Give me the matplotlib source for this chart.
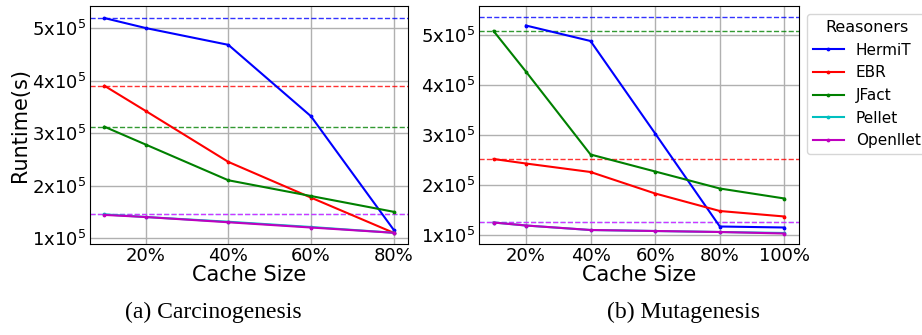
import matplotlib
matplotlib.use("Agg")
import matplotlib.pyplot as plt
import numpy as np

# ---- data ----
reasoners = ["HermiT", "EBR", "JFact", "Pellet", "Openllet"]
colors = ["blue", "red", "green", "c", "m"]
base_colors = ["blue", "red", "green", "cyan", "magenta"]

x_carc = [10, 20, 40, 60, 80]
carc_hermit = [5.19e5, 5.00e5, 4.68e5, 3.32e5, 1.16e5]
carc_ebr = [3.90e5, 3.42e5, 2.45e5, 1.77e5, 1.10e5]
carc_jfact = [3.12e5, 2.78e5, 2.10e5, 1.80e5, 1.50e5]
carc_pellet = [1.45e5, 1.40e5, 1.31e5, 1.21e5, 1.10e5]
carc_openllet = [1.44e5, 1.40e5, 1.30e5, 1.20e5, 1.10e5]
carc_baseline = [5.20e5, 3.90e5, 3.12e5, 1.45e5, 1.45e5]

x_muta = [10, 20, 40, 60, 80, 100]
x_muta_hermit = [20, 40, 60, 80, 100]
muta_hermit = [5.19e5, 4.88e5, 3.03e5, 1.17e5, 1.15e5]
muta_ebr = [2.52e5, 2.43e5, 2.26e5, 1.83e5, 1.48e5, 1.37e5]
muta_jfact = [5.08e5, 4.27e5, 2.61e5, 2.27e5, 1.93e5, 1.73e5]
muta_pellet = [1.25e5, 1.19e5, 1.10e5, 1.08e5, 1.06e5, 1.04e5]
muta_openllet = [1.25e5, 1.19e5, 1.10e5, 1.08e5, 1.06e5, 1.03e5]
muta_baseline = [5.36e5, 2.53e5, 5.09e5, 1.27e5, 1.27e5]

xticks_carc = [20, 40, 60, 80]
xticks_muta = [20, 40, 60, 80, 100]
yticks = [1e5, 2e5, 3e5, 4e5, 5e5]
ytick_labels = ["1x10$^5$", "2x10$^5$", "3x10$^5$", "4x10$^5$", "5x10$^5$"]
captions = ["(a) Carcinogenesis", "(b) Mutagenesis"]

fig = plt.figure(figsize=(9.22, 3.35), dpi=100)
W, H = 922, 335
ax1 = fig.add_axes([90 / W, 1 - 244 / H, 318 / W, 238 / H])
ax2 = fig.add_axes([479 / W, 1 - 244 / H, 320 / W, 238 / H])

panels = [
    (ax1, [(x_carc, carc_hermit), (x_carc, carc_ebr), (x_carc, carc_jfact),
           (x_carc, carc_pellet), (x_carc, carc_openllet)], carc_baseline,
     xticks_carc, (0.886e5, 5.42e5)),
    (ax2, [(x_muta_hermit, muta_hermit), (x_muta, muta_ebr), (x_muta, muta_jfact),
           (x_muta, muta_pellet), (x_muta, muta_openllet)], muta_baseline,
     xticks_muta, (0.82e5, 5.58e5)),
]

for ax, series, base, xt, yl in panels:
    for (xs, ys), name, col in zip(series, reasoners, colors):
        ax.plot(xs, ys, color=col, lw=1.5, marker='.', markersize=3.5, label=name, zorder=3)
    for b, col in zip(base, base_colors):
        ax.axhline(b, color=col, lw=1.0, ls='--', alpha=0.8, zorder=2)
    ax.set_xticks(xt)
    ax.set_xticklabels([f"{v}%" for v in xt], fontsize=13)
    ax.set_yticks(yticks)
    ax.set_yticklabels(ytick_labels, fontsize=13)
    ax.set_ylim(*yl)
    ax.tick_params(length=0, pad=2.5)
    ax.grid(True, color='#b0b0b0', lw=1.0)
    ax.set_axisbelow(True)
    ax.set_xlabel("Cache Size", fontsize=15, labelpad=0)

ax1.set_ylabel("Runtime(s)", fontsize=15, labelpad=2)

handles, labels = ax2.get_legend_handles_labels()
leg = fig.legend(handles, labels, title="Reasoners", loc='upper left',
                 bbox_to_anchor=(807 / W, 1 - 14 / H), bbox_transform=fig.transFigure,
                 borderaxespad=0, fontsize=11, title_fontsize=11.5)

fig.text(213 / W, 1 - 312 / H, captions[0], ha='center', va='center',
         fontsize=17, family='Liberation Serif')
fig.text(683 / W, 1 - 312 / H, captions[1], ha='center', va='center',
         fontsize=17, family='Liberation Serif')

fig.savefig("out.png", dpi=100)
